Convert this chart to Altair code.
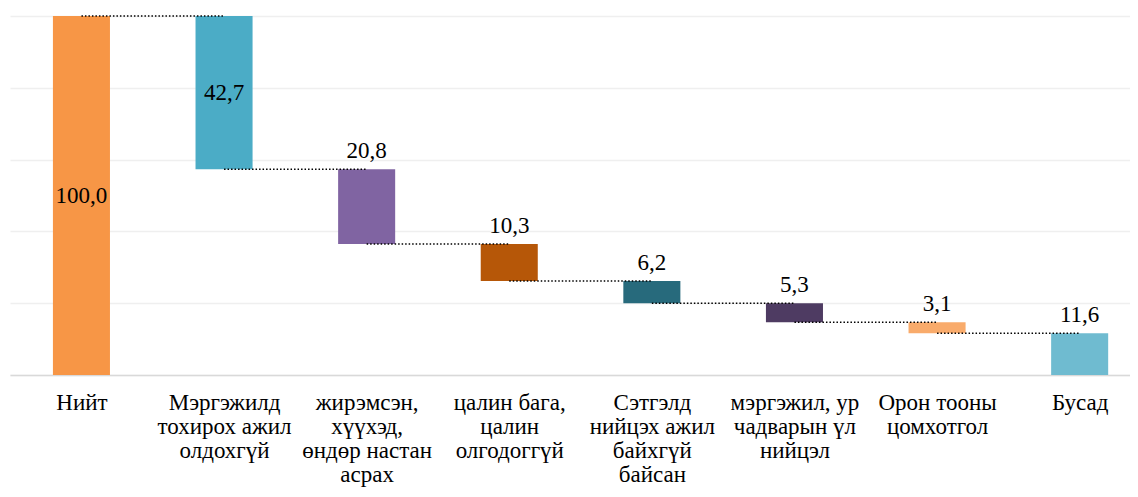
import json
import altair as alt
import pandas as pd

categories = [
    "Нийт",
    "Мэргэжилд\nтохирох ажил\nолдохгүй",
    "жирэмсэн,\nхүүхэд,\nөндөр настан\nасрах",
    "цалин бага,\nцалин\nолгодоггүй",
    "Сэтгэлд\nнийцэх ажил\nбайхгүй\nбайсан",
    "мэргэжил, ур\nчадварын үл\nнийцэл",
    "Орон тооны\nцомхотгол",
    "Бусад",
]
values = [100.0, 42.7, 20.8, 10.3, 6.2, 5.3, 3.1, 11.6]
colors = ["#F79646", "#4BACC6", "#8064A2", "#B65708", "#276A7C", "#4E3B62", "#F9AB6B", "#6FBBD0"]

FONT = "Liberation Serif"
HALF = 0.2  # half bar width in category units

rows = []
level = values[0]
for i, v in enumerate(values):
    if i == 0 or i == len(values) - 1:
        lo, hi = 0.0, v
    else:
        hi = level
        lo = level - v
        level = lo
    inside = i < 2
    rows.append({
        "idx": i, "x0": i - HALF, "x1": i + HALF,
        "lo": lo, "hi": hi,
        "label": f"{v:.1f}".replace(".", ","),
        "ly": (lo + hi) / 2 if inside else hi,
        "inside": inside,
        "color": colors[i],
    })
df = pd.DataFrame(rows)

conn = []
for i in range(len(rows) - 1):
    lvl = rows[i]["lo"] if i > 0 else rows[i]["hi"]
    conn.append({"a": i, "b": i + 1, "lvl": lvl})
cdf = pd.DataFrame(conn)

label_arr = json.dumps([c.replace("\n", "|") for c in categories], ensure_ascii=False)
label_expr = f"split({label_arr}[datum.value], '|')"

xscale = alt.Scale(domain=[-0.501, 7.353], nice=False, zero=False)
yscale = alt.Scale(domain=[0, 100], nice=False, zero=True)

xaxis = alt.Axis(
    title=None, labelAngle=0, ticks=False, grid=False,
    domainColor="#d9d9d9", domainWidth=1.5,
    values=list(range(len(categories))),
    labelFont=FONT, labelFontSize=23, labelColor="#000000",
    labelLineHeight=24, labelPadding=16, labelExpr=label_expr,
    labelLimit=250, labelFlush=False, labelOverlap=False, labelAlign="center",
)
yaxis = alt.Axis(
    title=None, labels=False, ticks=False, domain=False,
    values=[0, 20, 40, 60, 80, 100], gridColor="#efefef", gridWidth=1.5,
)

bars = alt.Chart(df).mark_bar().encode(
    x=alt.X("x0:Q", scale=xscale, axis=xaxis),
    x2="x1:Q",
    y=alt.Y("lo:Q", scale=yscale, axis=yaxis),
    y2="hi:Q",
    color=alt.Color("color:N", scale=None, legend=None),
)

conns = alt.Chart(cdf).mark_rule(color="#000000", strokeDash=[1.5, 2], strokeWidth=1.5).encode(
    x=alt.X("a:Q", scale=xscale),
    x2="b:Q",
    y=alt.Y("lvl:Q", scale=yscale),
)

inside_text = alt.Chart(df[df["inside"]]).mark_text(
    font=FONT, fontSize=23, color="#000000", baseline="middle"
).encode(
    x=alt.X("idx:Q", scale=xscale),
    y=alt.Y("ly:Q", scale=yscale),
    text="label:N",
)

above_text = alt.Chart(df[~df["inside"]]).mark_text(
    font=FONT, fontSize=23, color="#000000", baseline="alphabetic", dy=-11
).encode(
    x=alt.X("idx:Q", scale=xscale),
    y=alt.Y("ly:Q", scale=yscale),
    text="label:N",
)

chart = alt.layer(bars, conns, inside_text, above_text).properties(
    width=1120, height=359,
    background="#ffffff",
    autosize=alt.AutoSizeParams(type="none"),
    padding={"left": 2, "top": 8, "right": 0, "bottom": 114},
).configure_view(stroke=None)

chart.save("out.html", embed_options={"renderer": "svg", "actions": False})
